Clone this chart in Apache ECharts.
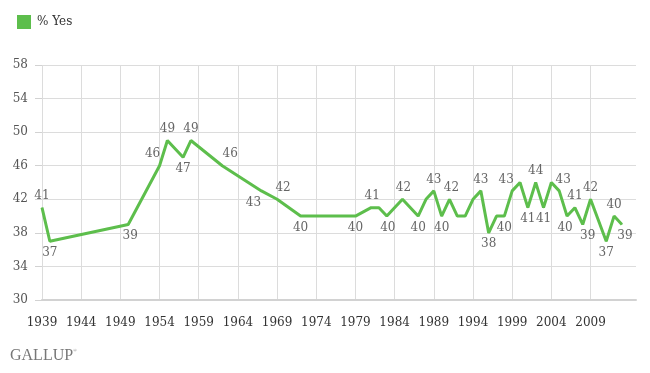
<!DOCTYPE html>
<html>
<head>
<meta charset="utf-8">
<script src="https://cdn.jsdelivr.net/npm/echarts@6/dist/echarts.min.js"></script>
<style>
html,body{margin:0;padding:0;background:#fff;}
#chart{width:650px;height:373px;}
</style>
</head>
<body>
<div id="chart"></div>
<script>
// ---- data ----
const seriesName = '% Yes';
const years = [1939, 1940, 1950, 1954, 1955, 1957, 1958, 1962, 1967, 1969, 1972, 1979, 1981, 1982, 1983, 1985, 1987, 1988, 1989, 1990, 1991, 1992, 1993, 1994, 1995, 1996, 1997, 1998, 1999, 2000, 2001, 2002, 2003, 2004, 2005, 2006, 2007, 2008, 2009, 2011, 2012, 2013];
const values = [41, 37, 39, 46, 49, 47, 49, 46, 43, 42, 40, 40, 41, 41, 40, 42, 40, 42, 43, 40, 42, 40, 40, 42, 43, 38, 40, 40, 43, 44, 41, 44, 41, 44, 43, 40, 41, 39, 42, 37, 40, 39];
const xTicks = [1939, 1944, 1949, 1954, 1959, 1964, 1969, 1974, 1979, 1984, 1989, 1994, 1999, 2004, 2009];
const yTicks = [30, 34, 38, 42, 46, 50, 54, 58];

// ---- label styling (which points carry a value label, and where) ----
const labelPlacement = {
  1939: ['top', 0, 0], 1940: ['bottom', 0, 0], 1950: ['bottom', 2, 0],
  1954: ['top', -7, 0], 1955: ['top', 0, 0], 1957: ['bottom', 0, 0], 1958: ['top', 0, 0],
  1962: ['top', 8, 0], 1967: ['bottom', -8, 0], 1969: ['top', 6, 0], 1972: ['bottom', 0, 0],
  1979: ['bottom', 0, 0], 1981: ['top', 1, 0], 1983: ['bottom', 1, 0], 1985: ['top', 1, 0],
  1987: ['bottom', 0, 0], 1989: ['top', 0, 0], 1990: ['bottom', 0, 0], 1991: ['top', 2, 0],
  1995: ['top', 0, 0], 1996: ['bottom', 0, 0], 1998: ['bottom', 0, 0], 1999: ['top', -6, 0],
  2001: ['bottom', 0, 0], 2002: ['top', 0, 0], 2003: ['bottom', 0, 0], 2005: ['top', 4, 0],
  2006: ['bottom', -2, 0], 2007: ['top', 0, 0], 2008: ['bottom', 5, 0], 2009: ['top', 0, 0],
  2011: ['bottom', 0, 0], 2012: ['top', 0, 0], 2013: ['bottom', 3, 0]
};

const green = '#5dbe4c';
const serif = 'DejaVu Serif';

const seriesData = years.map((y, i) => {
  const p = labelPlacement[y];
  return {
    value: [y, values[i]],
    label: p ? { show: true, position: p[0], offset: [p[1], p[2]] } : { show: false }
  };
});

const chart = echarts.init(document.getElementById('chart'), null, { renderer: 'canvas' });
chart.setOption({
  animation: false,
  backgroundColor: '#ffffff',
  grid: { left: 42, right: 14, top: 65, bottom: 73, containLabel: false },
  legend: {
    show: true,
    left: 12, top: 10,
    icon: 'rect', itemWidth: 14, itemHeight: 14,
    textStyle: { fontFamily: serif, fontSize: 12, color: '#333', padding: [0, 0, 0, 1] },
    data: [seriesName]
  },
  xAxis: {
    type: 'value',
    min: 1939, max: 2014.8, interval: 5,
    axisLine: { show: true, lineStyle: { color: '#d2d2d2', width: 2 } },
    axisTick: { show: false, customValues: xTicks },
    axisLabel: { customValues: xTicks, fontFamily: serif, fontSize: 12, color: '#333', margin: 17, formatter: v => String(v) },
    splitLine: { show: true, lineStyle: { color: '#dcdcdc', width: 1 } }
  },
  yAxis: {
    type: 'value',
    min: 30, max: 58, interval: 4,
    axisLine: { show: false },
    axisTick: { show: true, length: 7, lineStyle: { color: '#d2d2d2' } },
    axisLabel: { fontFamily: serif, fontSize: 12, color: '#555', margin: 14 },
    splitLine: { show: true, lineStyle: { color: '#dcdcdc', width: 1 } }
  },
  series: [{
    name: seriesName,
    type: 'line',
    data: seriesData,
    symbol: 'circle',
    symbolSize: 1,
    itemStyle: { color: green },
    lineStyle: { color: green, width: 3 },
    label: { fontFamily: serif, fontSize: 12, color: '#666', distance: 5, formatter: p => String(p.value[1]) },
    emphasis: { disabled: true }
  }],
  graphic: [
    { type: 'text', left: 10, top: 348, style: { text: 'GALLUP', font: '16px "Liberation Serif"', fill: '#777' } },
    { type: 'text', left: 73, top: 348, style: { text: '\u00AE', font: '5px "Liberation Serif"', fill: '#777' } }
  ]
});
</script>
</body>
</html>
